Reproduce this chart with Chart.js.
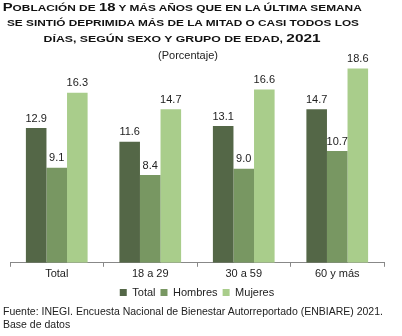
<!DOCTYPE html>
<html>
<head>
<meta charset="utf-8">
<script src="https://cdn.jsdelivr.net/npm/chart.js@4/dist/chart.umd.min.js"></script>
<style>
  html, body { margin: 0; padding: 0; background: #fff; }
  #wrap { position: relative; width: 402px; height: 336px; overflow: hidden; }
  #chart { position: absolute; left: 0; top: 0; }
  .tl {
    position: absolute; left: 0; width: 365px; text-align: center;
    font: bold 8.8px Arial, "Liberation Sans", sans-serif; color: #111;
    line-height: 12px; white-space: nowrap;
  }
  .tl span { display: inline-block; transform-origin: 50% 70%; }
  .tl b { font-size: 11px; }
  .sub {
    position: absolute; left: 0; top: 49px; width: 376px;
    text-align: center; font: 11px Arial, "Liberation Sans", sans-serif; color: #222;
  }
  .src {
    position: absolute; left: 3px; top: 305px; width: 400px;
    font: 10.5px Arial, "Liberation Sans", sans-serif; line-height: 13px; color: #222;
  }
</style>
</head>
<body>
<div id="wrap">
  <canvas id="chart" width="402" height="336"></canvas>
  <div class="tl" style="top:1px"><span data-w="359"><b>P</b>OBLACIÓN DE <b>18</b> Y MÁS AÑOS QUE EN LA ÚLTIMA SEMANA</span></div>
  <div class="tl" style="top:17px"><span data-w="352">SE SINTIÓ DEPRIMIDA MÁS DE LA MITAD O CASI TODOS LOS</span></div>
  <div class="tl" style="top:32px"><span data-w="277">DÍAS, SEGÚN SEXO Y GRUPO DE EDAD, <b>2021</b></span></div>
  <div class="sub">(Porcentaje)</div>
  <div class="src">Fuente: INEGI. Encuesta Nacional de Bienestar Autorreportado (ENBIARE) 2021.<br>Base de datos</div>
</div>
<script>
const grupos = ['Total', '18 a 29', '30 a 59', '60 y más'];
const total = [12.9, 11.6, 13.1, 14.7];
const hombres = [9.1, 8.4, 9.0, 10.7];
const mujeres = [16.3, 14.7, 16.6, 18.6];

const FONT = 'Arial, "Liberation Sans", sans-serif';

// stretch the title lines to their set widths
document.querySelectorAll('.tl span').forEach(s => {
  const w = s.getBoundingClientRect().width;
  s.style.transform = 'scaleX(' + (s.dataset.w / w) + ')';
});

// value labels above each bar
const barLabels = {
  id: 'barLabels',
  afterDatasetsDraw(chart) {
    const ctx = chart.ctx;
    ctx.save();
    ctx.font = '11px ' + FONT;
    ctx.fillStyle = '#222';
    ctx.textAlign = 'center';
    ctx.textBaseline = 'bottom';
    chart.data.datasets.forEach((ds, i) => {
      chart.getDatasetMeta(i).data.forEach((bar, j) => {
        ctx.fillText(ds.data[j].toFixed(1), bar.x, bar.y - 4);
      });
    });
    ctx.restore();
  }
};

new Chart(document.getElementById('chart'), {
  type: 'bar',
  data: {
    labels: grupos,
    datasets: [
      { label: 'Total', data: total, backgroundColor: '#546747' },
      { label: 'Hombres', data: hombres, backgroundColor: '#789762' },
      { label: 'Mujeres', data: mujeres, backgroundColor: '#a9cd8b' }
    ]
  },
  options: {
    responsive: false,
    animation: false,
    layout: { padding: { left: 10, right: 18, top: 54, bottom: 28 } },
    datasets: { bar: { categoryPercentage: 0.66, barPercentage: 1.0 } },
    plugins: {
      legend: {
        position: 'bottom',
        labels: {
          boxWidth: 7, boxHeight: 7, padding: 5,
          color: '#222', font: { family: FONT, size: 11 }
        }
      },
      tooltip: { enabled: false }
    },
    scales: {
      x: {
        grid: { display: true, drawOnChartArea: false, drawTicks: true, tickLength: 4, offset: true, color: '#888' },
        border: { display: true, color: '#888' },
        ticks: { color: '#222', padding: 1, font: { family: FONT, size: 11 } }
      },
      y: {
        display: false,
        min: 0, max: 20
      }
    }
  },
  plugins: [barLabels]
});
</script>
</body>
</html>
